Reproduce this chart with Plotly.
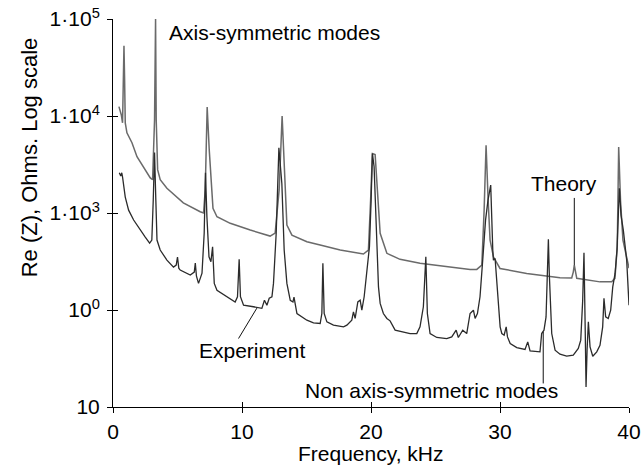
import plotly.graph_objects as go

# ---- data (frequency in kHz, Re(Z) in Ohms) ----
freq_theory = [0.46, 0.64, 0.74, 0.80, 0.85, 0.90, 0.95, 1.08, 1.47, 1.86,
               2.37, 2.89, 3.07, 3.22, 3.30, 3.35, 3.46, 3.66, 4.18, 5.21,
               5.45, 6.76, 7.02, 7.15, 7.30, 7.46, 7.75, 8.06, 9.09, 10.64,
               12.18, 12.57, 12.88, 13.11, 13.31, 13.48, 13.87, 15.03, 16.06, 17.61,
               19.41, 19.80, 19.97, 20.11, 20.32, 20.55, 20.71, 21.23, 22.25, 23.80,
               25.87, 27.68, 28.20, 28.59, 28.77, 28.92, 29.08, 29.23, 29.49, 30.0,
               32.07, 34.65, 35.56, 35.68, 35.76, 35.84, 35.95, 37.75, 38.66, 38.91,
               39.09, 39.20, 39.34, 39.53, 39.84, 40.0]
z_theory = [12500, 10300, 8500, 23600, 53000, 23600, 8500, 6700, 5300, 3800,
            3000, 2300, 2200, 9100, 100000, 9100, 2800, 2200, 1800, 1360,
            1270, 1030, 1000, 1730, 12400, 4500, 1120, 916, 783, 667,
            578, 621, 1730, 10000, 2800, 752, 592, 506, 468, 415,
            378, 415, 1360, 4100, 4000, 1360, 617, 384, 333, 303,
            279, 262, 262, 290, 1070, 5000, 1360, 526, 354, 268,
            238, 215, 214, 246, 290, 246, 212, 195, 195, 212,
            449, 4800, 1360, 526, 343, 270]

freq_exp = [0.49, 0.60, 0.68, 0.74, 0.95, 1.21, 1.60, 2.11, 2.50, 2.84,
            3.01, 3.12, 3.22, 3.32, 3.41, 3.66, 4.18, 4.69, 4.90, 5.00,
            5.10, 5.21, 5.99, 6.30, 6.38, 6.47, 6.63, 6.90, 7.07, 7.17,
            7.28, 7.44, 7.59, 7.72, 7.85, 8.06, 8.83, 9.47, 9.65, 9.78,
            9.88, 10.12, 10.89, 11.54, 11.74, 11.93, 12.11, 12.32, 12.44, 12.65,
            12.86, 13.09, 13.27, 13.48, 13.74, 13.95, 14.03, 14.26, 15.03, 15.54,
            16.06, 16.19, 16.27, 16.37, 16.58, 17.09, 17.87, 18.13, 18.51, 18.64,
            18.77, 18.98, 19.16, 19.29, 19.47, 19.68, 19.88, 20.01, 20.11, 20.24,
            20.32, 20.45, 20.58, 20.71, 20.96, 21.23, 21.48, 21.87, 22.51, 23.03,
            23.55, 23.80, 24.06, 24.25, 24.37, 24.58, 25.10, 25.87, 26.26, 26.60,
            26.77, 27.11, 27.42, 27.68, 27.94, 28.07, 28.25, 28.45, 28.66, 28.88,
            29.07, 29.28, 29.44, 29.49, 29.62, 29.75, 30.01, 30.14, 30.32, 30.48,
            30.58, 30.79, 31.30, 31.94, 32.15, 32.33, 33.10, 33.23, 33.41, 33.57,
            33.67, 33.75, 33.82, 34.01, 34.27, 34.65, 35.17, 35.68, 36.07, 36.26,
            36.41, 36.51, 36.61, 36.67, 36.75, 36.85, 36.98, 37.19, 37.50, 37.75,
            37.96, 38.06, 38.19, 38.39, 38.58, 38.74, 38.92, 39.07, 39.25, 39.38,
            39.56, 39.82, 40.0]
z_exp = [2600, 2400, 2600, 2350, 1460, 1070, 847, 667, 565, 490,
         526, 1360, 4200, 1360, 526, 415, 327, 277, 290, 352,
         270, 258, 229, 246, 304, 223, 188, 240, 621, 2600,
         916, 354, 314, 449, 188, 160, 137, 121, 137, 333,
         137, 112, 108, 104, 126, 112, 132, 137, 188, 617,
         4700, 2000, 415, 188, 126, 121, 136, 92, 78.5, 73.6,
         72.6, 92, 303, 92, 75.5, 69.8, 67, 69.8, 78.5, 95.7,
         81.8, 121, 126, 99.5, 137, 238, 449, 1360, 4100, 3000,
         1470, 617, 173, 117, 92, 81.8, 77.3, 62, 59.5, 57.2,
         57.2, 67, 108, 354, 92, 57.2, 52.1, 50.8, 52.8, 62,
         52.1, 62, 57.2, 92, 99.5, 81.8, 92, 137, 327, 845,
         1360, 1940, 415, 327, 340, 203, 67, 57.2, 55, 67,
         52.8, 45.2, 41, 39.2, 46.9, 37.9, 37, 57.2, 62, 84.9,
         238, 535, 238, 57.2, 38.5, 35, 33.4, 34.2, 40.1, 48.9,
         126, 389, 57.2, 16.1, 38.5, 75.5, 41.7, 33.4, 37, 43.3,
         67, 132, 84.9, 81.8, 99.5, 173, 238, 415, 1800, 952,
         667, 327, 112]

x_tick_vals = [0, 10, 20, 30, 40]
y_tick_vals = [10, 100, 1000, 10000, 100000]
y_tick_text = ["10", "10<sup>0</sup>", "1·10<sup>3</sup>", "1·10<sup>4</sup>", "1·10<sup>5</sup>"]

# annotation pointer lines (kHz, Ohms)
ptr_theory_x = [35.76, 35.76]
ptr_theory_y = [1430, 290]
ptr_exp_x = [9.73, 11.15]
ptr_exp_y = [50.8, 104.5]
ptr_non_x = [33.35, 33.35]
ptr_non_y = [59.5, 17.5]

FONT = "Liberation Sans, Arial, Helvetica, sans-serif"

fig = go.Figure()
fig.add_trace(go.Scatter(x=freq_theory, y=z_theory, mode="lines",
                         line=dict(color="#6a6a6a", width=1.5), hoverinfo="skip"))
fig.add_trace(go.Scatter(x=freq_exp, y=z_exp, mode="lines",
                         line=dict(color="#2b2b2b", width=1.3), hoverinfo="skip"))
for px, py in [(ptr_theory_x, ptr_theory_y), (ptr_exp_x, ptr_exp_y), (ptr_non_x, ptr_non_y)]:
    fig.add_trace(go.Scatter(x=px, y=py, mode="lines",
                             line=dict(color="#111111", width=1), hoverinfo="skip"))
# dummy trace for the overlay axes (inside half of the crossing ticks)
fig.add_trace(go.Scatter(x=[20], y=[100], mode="lines", xaxis="x2", yaxis="y2",
                         hoverinfo="skip", line=dict(width=0)))

axis_font = dict(family=FONT, size=21, color="black")

fig.update_layout(
    template="none",
    width=641, height=470,
    margin=dict(l=113, r=12, t=19, b=63, autoexpand=False),
    paper_bgcolor="white", plot_bgcolor="white",
    showlegend=False, hovermode=False,
    font=axis_font,
    xaxis=dict(range=[0, 40], tickvals=x_tick_vals, ticks="outside", ticklen=5,
               tickwidth=1, tickcolor="black", showline=True, linecolor="black",
               linewidth=1, showgrid=False, zeroline=False, tickfont=axis_font,
               automargin=False, ticklabelstandoff=1),
    yaxis=dict(type="log", range=[1, 5], tickvals=y_tick_vals, ticktext=y_tick_text,
               ticks="outside", ticklen=5, tickwidth=1, tickcolor="black",
               showline=True, linecolor="black", linewidth=1, showgrid=False,
               zeroline=False, tickfont=axis_font, automargin=False,
               ticklabelstandoff=3),
    xaxis2=dict(overlaying="x", anchor="y", side="bottom", range=[0, 40],
                tickvals=x_tick_vals, ticks="inside", ticklen=5, tickwidth=1,
                tickcolor="black", showticklabels=False, showline=False,
                showgrid=False, zeroline=False, automargin=False),
    yaxis2=dict(overlaying="y", anchor="x", side="left", type="log", range=[1, 5],
                tickvals=y_tick_vals, ticks="inside", ticklen=5, tickwidth=1,
                tickcolor="black", showticklabels=False, showline=False,
                showgrid=False, zeroline=False, automargin=False),
)

ann = dict(xref="paper", yref="paper", showarrow=False, font=axis_font)
fig.add_annotation(text="Axis-symmetric modes", x=0.1046, y=0.9646,
                   xanchor="left", yanchor="middle", **ann)
fig.add_annotation(text="Theory", x=0.874, y=0.5749, xanchor="center", yanchor="middle", **ann)
fig.add_annotation(text="Experiment", x=0.2692, y=0.1464, xanchor="center", yanchor="middle", **ann)
fig.add_annotation(text="Non axis-symmetric modes", x=0.8664, y=0.0431,
                   xanchor="right", yanchor="middle", **ann)
fig.add_annotation(text="Frequency, kHz", x=0.5, y=-0.1195, xanchor="center", yanchor="middle", **ann)
fig.add_annotation(text="Re (Z), Ohms. Log scale", x=-0.1620, y=0.6446, textangle=-90,
                   xanchor="center", yanchor="middle",
                   xref="paper", yref="paper", showarrow=False,
                   font=dict(family=FONT, size=22, color="black"))

fig.write_html("out.html", config={"displayModeBar": False},
               post_script="document.body.style.margin='0';document.body.style.padding='0';")
